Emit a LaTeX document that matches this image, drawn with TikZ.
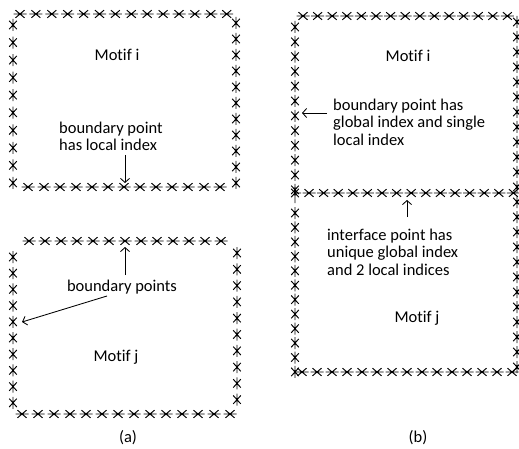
\documentclass[tikz,border=0pt]{standalone}
\usepackage{fontspec}
\setmainfont{Carlito}[Ligatures={NoCommon}]
\usetikzlibrary{arrows.meta}
\tikzset{
  markline/.style={line width=0.95pt},
  % boundary point on a horizontal edge
  hmark/.pic={\draw[markline] (-4.5,-3.8) -- (4.5,3.8) (-4.5,3.8) -- (4.5,-3.8) (-6.5,0) -- (6.5,0);},
  % boundary point on a vertical edge
  vmark/.pic={\draw[markline] (-3.8,-4.2) -- (3.8,4.2) (-3.8,4.2) -- (3.8,-4.2) (0,-6) -- (0,6);},
  % corner where the interface meets the outer edge
  jmark/.pic={\draw[markline] (-3.8,-4.2) -- (3.8,4.2) (-3.8,4.2) -- (3.8,-4.2) (0,-6) -- (0,10) (0,0) -- (6,0);},
  txt/.style={font=\fontsize{16.5}{17.5}\selectfont, inner sep=0pt},
  pointer/.style={line width=0.85pt, -{Straight Barb[length=4pt,width=9pt]}}
}
\begin{document}
\begin{tikzpicture}[x=1pt,y=-1pt]
\useasboundingbox (0,0) rectangle (519,449);

% ---------- (a) motif i ----------
\foreach \k in {0,...,13} \pic at ({20+15.9*\k},14) {hmark};
\foreach \k in {0,...,9} \pic at (13,{25+17.55*\k}) {vmark};
\foreach \k in {0,...,12} \pic at ({28+16*\k},187) {hmark};
\foreach \k in {0,...,10} \pic at (236,{23+16*\k}) {vmark};

\node[txt, anchor=base] (mia) at (117,61) {Motif i};
\node[txt, anchor=north west, align=left] (bpa) at (59,121.5) {boundary point\\has local index};
\coordinate (tipa) at (125,183);
\draw[pointer] (125,155) coordinate (srca) -- (tipa);

% ---------- (a) motif j ----------
\foreach \k in {-6,...,6} \pic at ({125+16*\k},241) {hmark};
\foreach \k in {0,...,9} \pic at (13,{257+16.2*\k}) {vmark};
\foreach \k in {0,...,13} \pic at ({22+16*\k},414) {hmark};
\foreach \k in {0,...,9} \pic at (237,{253+16.3*\k}) {vmark};

\node[txt, anchor=base] (bps) at (122,291) {boundary points};
\node[txt, anchor=base] (mja) at (116,361) {Motif j};
\coordinate (tipup) at (125,247);
\coordinate (tipleft) at (22,322);
\draw[pointer] (125,275) coordinate (srcup) -- (tipup);
\draw[pointer] (107,296) coordinate (srcleft) -- (tipleft);

\node[txt, anchor=base] (la) at (128,442) {(a)};

% ---------- (b) two motifs sharing an interface ----------
\foreach \k in {0,...,14} \pic at ({303+14.6*\k},16) {hmark};
\foreach \k in {0,...,11} \pic at (295,{27+14.8*\k}) {vmark};
\pic at (295,193) {jmark};
\foreach \k in {0,...,14} \pic at ({309+14.6*\k},193) {hmark};
\foreach \k in {0,...,11} \pic at (295,{213+14.45*\k}) {vmark};
\foreach \k in {0,...,14} \pic at ({302+15*\k},372) {hmark};
\foreach \k in {0,...,23} \pic at (517,{22+15*\k}) {vmark};

\node[txt, anchor=base] (mib) at (408,62) {Motif i};
\node[txt, anchor=north west, align=left] (bpb) at (333,98.5)
  {boundary point has\\global index and single\\local index};
\coordinate (tipb) at (302,113);
\draw[pointer] (327,113) coordinate (srcb) -- (tipb);

\node[txt, anchor=north west, align=left] (ifb) at (327,228.5)
  {interface point has\\unique global index\\and 2 local indices};
\coordinate (tipif) at (407,200);
\draw[pointer] (407,217) coordinate (srcif) -- (tipif);

\node[txt, anchor=base] (mjb) at (417,322) {Motif j};
\node[txt, anchor=base] (lb) at (418,442) {(b)};
\end{tikzpicture}
\end{document}
